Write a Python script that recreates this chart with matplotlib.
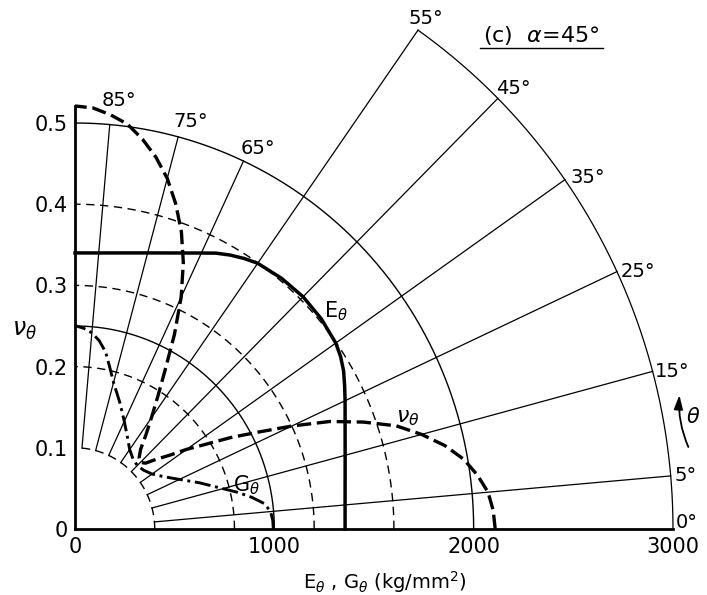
import numpy as np
import matplotlib.pyplot as plt

# polar data, theta in degrees; E and G in kg/mm^2, nu dimensionless
theta_E = [0, 5, 10, 15, 20, 25, 27.5, 30, 32.5, 35, 40, 45, 50, 55, 57.5, 60,
           62.5, 65, 70, 75, 80, 85, 90]
E_theta = [1355, 1360, 1376, 1403, 1442, 1495, 1525, 1556, 1580, 1597, 1612, 1618,
           1612, 1598, 1580, 1558, 1532, 1500, 1447, 1408, 1381, 1365, 1360]

theta_G = [0, 2.5, 5, 7.5, 10, 12.5, 15, 20, 25, 30, 35, 40, 45, 50, 55, 60, 65,
           70, 75, 77.5, 80, 82.5, 85, 87.5, 90]
G_theta = [995, 993, 985, 958, 900, 835, 768, 665, 578, 515, 472, 450, 442, 452,
           478, 525, 585, 660, 747, 811, 885, 935, 970, 990, 1002]

theta_nu = [0, 2.5, 5, 7.5, 10, 12.5, 15, 17.5, 20, 22.5, 25, 27.5, 30, 32.5, 35,
            37.5, 40, 42.5, 45, 47.5, 50, 52.5, 55, 57.5, 60, 62.5, 65, 67.5, 70,
            72.5, 75, 77.5, 80, 82.5, 85, 87.5, 90]
nu_theta = [0.527, 0.525, 0.520, 0.509, 0.495, 0.475, 0.450, 0.4225, 0.385, 0.346,
            0.300, 0.258, 0.225, 0.194, 0.171, 0.149, 0.134, 0.120, 0.116, 0.119,
            0.128, 0.146, 0.167, 0.193, 0.226, 0.270, 0.315, 0.355, 0.390, 0.420,
            0.447, 0.469, 0.4875, 0.503, 0.512, 0.519, 0.521]

# 0.1 of nu sits on the same ring as 400 kg/mm^2
kg_per_nu = 4000.0

ring_r = [400, 800, 1000, 1200, 1600, 2000]
ring_ls = ['--', '--', '-', '--', '--', '-']
outer_r = 3000
outer_span = 55

spoke_deg = [5, 15, 25, 35, 45, 55, 65, 75, 85]
spoke_end = [3000, 3000, 3000, 3000, 3000, 3000, 2000, 2000, 2000]

label_deg = [0, 5, 15, 25, 35, 45, 55, 65, 75, 85]
label_r = [3000, 3000, 3000, 3000, 3000, 3000, 3000, 2000, 2000, 2000]
label_off = [(14, 6), (15, 0), (20, 0), (21, 0), (23, 2), (16, 10), (8, 12),
             (14, 13), (12, 15), (9, 24)]


def to_xy(deg, r):
    t = np.radians(np.asarray(deg, dtype=float))
    r = np.asarray(r, dtype=float)
    return r * np.cos(t), r * np.sin(t) / kg_per_nu


fig = plt.figure(figsize=(7.07, 5.95), dpi=100)
ax = fig.add_axes([0, 0, 1, 1])
ax.set_xlim(-376.3, 3170.6)
ax.set_ylim(-0.0813, 0.6515)

# rings
for r, ls in zip(ring_r, ring_ls):
    a = np.linspace(0, 90, 200)
    x, y = to_xy(a, np.full_like(a, r))
    if ls == '--':
        ax.plot(x, y, color='k', lw=1.0, ls=(0, (6, 4)))
    else:
        ax.plot(x, y, color='k', lw=1.0)
a = np.linspace(0, outer_span, 200)
x, y = to_xy(a, np.full_like(a, outer_r))
ax.plot(x, y, color='k', lw=0.9)

# spokes
for d, rend in zip(spoke_deg, spoke_end):
    x, y = to_xy([d, d], [ring_r[0], rend])
    ax.plot(x, y, color='k', lw=0.9)

# angle labels at spoke ends
for d, r, off in zip(label_deg, label_r, label_off):
    x, y = to_xy(d, r)
    ax.annotate(f'{d}°', (x, y), xytext=off, textcoords='offset pixels',
                ha='center', va='center', fontsize=14)

# curves
x, y = to_xy(theta_E, E_theta)
ax.plot(x, y, color='k', lw=2.5, zorder=5)
x, y = to_xy(theta_G, G_theta)
ax.plot(x, y, color='k', lw=2.1, ls=(0, (5.5, 1.6, 1.0, 1.6)), zorder=5)
x, y = to_xy(theta_nu, np.asarray(nu_theta) * kg_per_nu)
ax.plot(x, y, color='k', lw=2.4, ls=(0, (4.3, 1.7)), zorder=5)

ax.text(1310, 0.268, r'E$_\theta$', fontsize=15, ha='center', va='center')
ax.text(863, 0.054, r'G$_\theta$', fontsize=15, ha='center', va='center')
ax.text(1671, 0.137, r'$\nu_\theta$', fontsize=16, ha='center', va='center')

# axes
for s in ['top', 'right']:
    ax.spines[s].set_visible(False)
ax.spines['left'].set_position(('data', 0))
ax.spines['bottom'].set_position(('data', 0))
ax.spines['left'].set_bounds(0, 0.521)
ax.spines['bottom'].set_bounds(0, 3000)
ax.spines['left'].set_linewidth(2)
ax.spines['bottom'].set_linewidth(2)
ax.set_xticks([0, 1000, 2000, 3000], ['0', '1000', '2000', '3000'])
ax.set_yticks([0, 0.1, 0.2, 0.3, 0.4, 0.5], ['0', '0.1', '0.2', '0.3', '0.4', '0.5'])
ax.tick_params(axis='both', length=0, labelsize=15)
ax.tick_params(axis='x', pad=6)
ax.tick_params(axis='y', pad=5)

ax.text(-251, 0.245, r'$\nu_\theta$', fontsize=17, ha='center', va='center')
ax.text(1555, -0.065, r'E$_\theta$ , G$_\theta$ (kg/mm$^2$)', fontsize=14,
        ha='center', va='center')

# direction of theta
ax.annotate('', xy=(3032, 0.165), xytext=(3077, 0.101),
            arrowprops=dict(arrowstyle='-|>,head_length=0.7,head_width=0.22',
                            lw=1.3, color='k', shrinkA=0, shrinkB=0,
                            connectionstyle='arc3,rad=-0.12', mutation_scale=12))
ax.text(3102, 0.138, r'$\theta$', fontsize=15, ha='center', va='center')

fig.text(0.765, 0.941, r'(c)  $\alpha$=45°', fontsize=16, ha='center', va='center')
fig.add_artist(plt.Line2D([0.679, 0.853], [0.919, 0.919], color='k', lw=1))

fig.savefig('out.png', dpi=100)
